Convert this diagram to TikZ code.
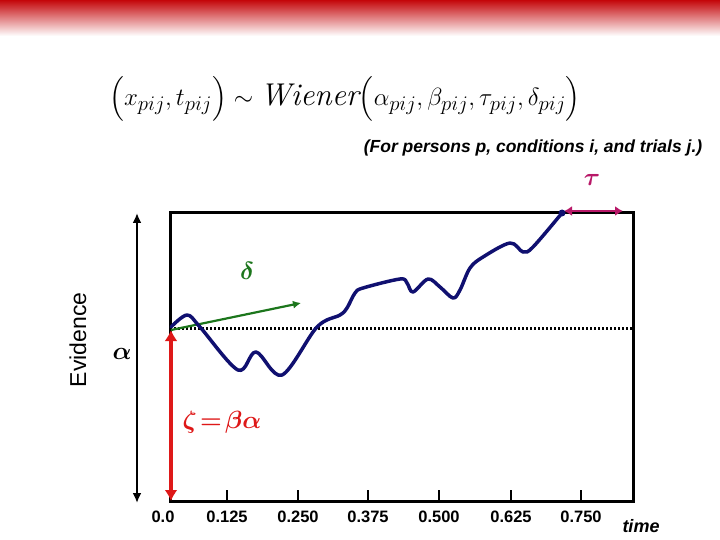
\documentclass[tikz,border=0pt]{standalone}
\usepackage{amsmath}
\usepackage{bm}
\usepackage{fontspec}
\setsansfont{Liberation Sans}
\usepackage{tikz}
\usetikzlibrary{arrows.meta}

\definecolor{pathblue}{RGB}{16,16,112}
\definecolor{zetared}{RGB}{222,24,24}
\definecolor{taumag}{RGB}{184,24,104}
\definecolor{deltagreen}{RGB}{28,118,28}
\definecolor{bandred}{RGB}{196,6,10}

\tikzset{
  ticklab/.style={font=\sffamily\bfseries\fontsize{16.5}{18}\selectfont, text=black},
  greek/.style={font=\boldmath\fontsize{23}{26}\selectfont}
}

\begin{document}
\begin{tikzpicture}[x=1pt, y=-1pt, >={Latex[length=10pt,width=9pt]}]
    \useasboundingbox (0,0) rectangle (720,540);
    % 1. BANDA SUPERIOR
    \shade[top color=bandred, bottom color=white] (0,0) rectangle (720,36);

    % 2. FORMULA I NOTA
    \node (formula) at (345,99) {\fontsize{31.5}{36}\selectfont
      $\Bigl(x_{pij},t_{pij}\Bigr)\sim \mathit{Wiener}\Bigl(\alpha_{pij},\beta_{pij},\tau_{pij},\delta_{pij}\Bigr)$};
    \node (note) at (533,148) {\sffamily\bfseries\itshape\fontsize{17.5}{20}\selectfont (For persons p, conditions i, and trials j.)};

    % 3. CAIXA I EIXOS
    \draw[line width=3pt] (170,501) -- (170,213) -- (633,213) -- (633,501) -- cycle;
    \draw[line width=3pt, dash pattern=on 2pt off 2pt] (170,328) -- (633,328);
    \draw[line width=2pt, <->] (137,213) -- (137,503);
    \node[rotate=90, font=\sffamily\fontsize{23}{26}\selectfont] (evid) at (78,340) {Evidence};

    % Divisions de l'eix de temps
    \node[ticklab] (l0) at (163,517) {0.0};
    \foreach \x/\t in {227/0.125, 298/0.250, 368/0.375, 439/0.500, 511/0.625, 581/0.750} {
        \draw[line width=2.5pt] (\x,490) -- (\x,501);
        \node[ticklab] (l\x) at (\x,517) {\t};
    }
    \node[font=\sffamily\bfseries\itshape\fontsize{18}{20}\selectfont] (time) at (641,526) {time};

    % 4. PARAMETRES
    \coordinate (start) at (171,330);
    \coordinate (base) at (171,501);
    \coordinate (drift) at (301,303);
    \coordinate (hit) at (564,211);
    \coordinate (nondec) at (623,211);

    \draw[zetared, line width=3.2pt, {Latex[length=11pt,width=13pt]}-{Latex[length=11pt,width=13pt]}] (base) -- (start);
    \node[zetared, greek] (zeta) at (222,422) {$\zeta\!=\!\beta\alpha$};
    \node[greek] (alpha) at (122,354) {$\alpha$};

    \draw[deltagreen, line width=2.2pt, -{Latex[length=8pt,width=8pt]}] (start) -- (drift);
    \node[deltagreen, greek] (delta) at (247,271) {$\delta$};

    \draw[taumag, line width=2.8pt, {Latex[length=8pt,width=10pt]}-{Latex[length=8pt,width=10pt]}] (hit) -- (nondec);
    \node[taumag, greek] (tau) at (592,180) {$\tau$};

    % 5. CAMI DE DIFUSIO
    \draw[pathblue, line width=3.5pt, line cap=round, line join=round] plot[smooth, tension=0.55] coordinates {
        (171,327) (187,315) (200,327) (238,370) (256,352) (282,375) (317,327)
        (340,315) (347,308) (355,293) (363,288) (400,279) (407,283) (413,292)
        (428,279) (440,287) (453,298) (460,290) (470,268) (483,257) (510,243)
        (523,252) (533,247) (562,213)};
    \fill[pathblue] (562,213) circle (3.5pt);
\end{tikzpicture}
\end{document}
